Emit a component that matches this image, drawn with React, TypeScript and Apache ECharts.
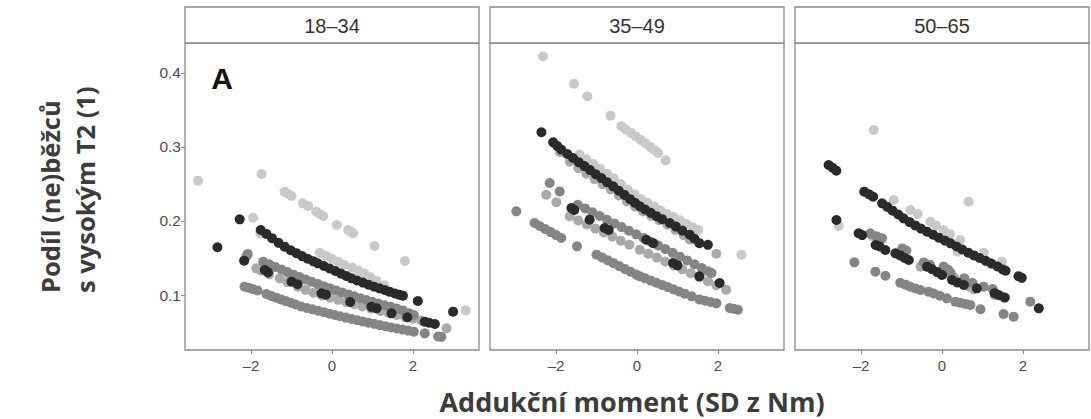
import React, { useEffect, useRef } from "react";
import * as echarts from "echarts";

// Facet labels and tick labels
const panels = ["18–34", "35–49", "50–65"];
const xTicks = [-2, 0, 2];
const yTicks = [0.1, 0.2, 0.3, 0.4];
const xRange = [-3.63, 3.63];
const yRange = [0.0257, 0.4405];

// ---------- Panel 1 (18–34) ----------
const p1Light = [
  [-3.31, 0.2545], [-1.74, 0.2635], [-1.17, 0.2396], [-1.08, 0.2365], [-1.0, 0.2338],
  [-0.72, 0.2239], [-0.59, 0.2203], [-0.39, 0.2126], [-0.3, 0.2095], [-0.22, 0.2068],
  [0.12, 0.1946], [0.4, 0.1878], [0.46, 0.1856], [0.52, 0.1834], [1.05, 0.1662],
  [1.8, 0.1459], [3.3, 0.0793], [-1.95, 0.2045], [-1.77, 0.1833],
  [-0.3, 0.157], [-0.15, 0.153], [0.0, 0.149], [0.15, 0.145], [0.3, 0.141], [0.5, 0.137],
  [0.65, 0.133], [0.8, 0.129], [0.95, 0.124], [1.1, 0.119], [1.3, 0.113],
];
const p1Mid = [
  [-1.87, 0.136], [-1.75, 0.133], [-1.55, 0.128], [-1.29, 0.1225], [-1.1, 0.1175],
  [-0.84, 0.1112], [-0.65, 0.107], [-0.45, 0.103], [-0.25, 0.0995], [-0.05, 0.0965],
  [0.15, 0.0935], [0.35, 0.0905], [0.55, 0.0875], [0.75, 0.0845], [0.97, 0.0815],
  [1.2, 0.0785], [1.4, 0.0757], [1.6, 0.073], [1.8, 0.0705], [2.0, 0.068], [2.2, 0.0655],
  [2.83, 0.055],
];
const p1Gray = [
  [-2.11, 0.1527], [-2.08, 0.1555],
  [-1.7, 0.145], [-1.55, 0.1415], [-1.4, 0.138], [-1.25, 0.1345], [-1.1, 0.131],
  [-0.95, 0.1275], [-0.8, 0.1243], [-0.65, 0.121], [-0.5, 0.1178], [-0.35, 0.1148],
  [-0.2, 0.1118], [-0.05, 0.109], [0.1, 0.1062], [0.25, 0.1035], [0.4, 0.1008],
  [0.55, 0.0982], [0.7, 0.0957], [0.85, 0.0932], [1.0, 0.0908], [1.15, 0.0885],
  [1.3, 0.0862], [1.45, 0.084], [1.6, 0.0818], [1.75, 0.0792], [1.9, 0.0755], [2.02, 0.073],
  [-2.16, 0.1112], [-2.06, 0.1098], [-1.96, 0.1082], [-1.84, 0.1062], [-1.62, 0.1014],
  [-1.5, 0.0988], [-1.38, 0.0964], [-1.26, 0.094], [-1.14, 0.0918], [-1.02, 0.0895],
  [-0.9, 0.0872], [-0.76, 0.0845], [-0.62, 0.0825], [-0.48, 0.0806], [-0.34, 0.0787],
  [-0.2, 0.0768], [-0.06, 0.0748], [0.07, 0.073], [0.2, 0.0713], [0.34, 0.0695],
  [0.48, 0.0677], [0.62, 0.066], [0.76, 0.0643], [0.9, 0.0626], [1.04, 0.061],
  [1.18, 0.0594], [1.32, 0.0578], [1.46, 0.0562], [1.6, 0.0547], [1.74, 0.0533],
  [1.88, 0.0519], [2.02, 0.0505], [2.29, 0.0482], [2.62, 0.044], [2.7, 0.0435],
];
const p1Black = [
  [-2.28, 0.2023], [-2.83, 0.1645], [-2.17, 0.1464], [2.12, 0.0919], [2.99, 0.0775],
  [-1.76, 0.1878], [-1.62, 0.1825], [-1.48, 0.1768], [-1.32, 0.1705], [-1.17, 0.1653],
  [-1.02, 0.1605], [-0.88, 0.1565], [-0.74, 0.1526], [-0.6, 0.149], [-0.46, 0.1455],
  [-0.35, 0.1428], [-0.2, 0.1392], [-0.06, 0.1358], [0.08, 0.1325], [0.22, 0.129],
  [0.35, 0.1258], [0.48, 0.1225], [0.62, 0.1196], [0.76, 0.1168], [0.9, 0.114],
  [1.04, 0.1112], [1.17, 0.109], [1.3, 0.1068], [1.42, 0.1045], [1.55, 0.1022],
  [1.66, 0.1005], [1.75, 0.0991],
  [-1.66, 0.1338], [-1.58, 0.1305], [-1.0, 0.118], [-0.85, 0.1145], [-0.26, 0.1023],
  [-0.15, 0.1005], [0.45, 0.0905], [0.97, 0.084], [1.1, 0.082], [1.47, 0.0752],
  [1.86, 0.0699], [2.29, 0.064], [2.4, 0.0625], [2.54, 0.0608],
];

// ---------- Panel 2 (35–49) ----------
const p2Light = [
  [-2.32, 0.4226], [-1.556, 0.3856], [-1.225, 0.3685], [-0.657, 0.3423],
  [-0.385, 0.328], [-0.27, 0.3235], [-0.15, 0.319], [-0.03, 0.3145], [0.09, 0.3095],
  [0.21, 0.305], [0.33, 0.3], [0.43, 0.296], [0.52, 0.292], [0.709, 0.282],
  [-1.42, 0.29], [-1.25, 0.2835], [-1.08, 0.277], [-0.91, 0.2705], [-0.74, 0.264],
  [-0.57, 0.2575], [-0.4, 0.25], [-0.23, 0.2425], [-0.06, 0.236], [0.1, 0.2295],
  [0.26, 0.2245], [0.42, 0.2195], [0.58, 0.2145], [0.74, 0.2095], [0.9, 0.2055],
  [1.06, 0.201], [1.22, 0.196], [1.38, 0.1915], [1.51, 0.188], [2.58, 0.1545],
];
const p2Mid = [
  [-2.24, 0.2355], [-1.99, 0.2253], [-1.9, 0.293],
  [-1.66, 0.28], [-1.45, 0.2715], [-1.25, 0.264], [-1.05, 0.2565], [-0.85, 0.2495],
  [-0.65, 0.2425], [-0.45, 0.2345], [-0.25, 0.2265], [-0.05, 0.2195], [0.15, 0.213],
  [0.35, 0.207], [0.55, 0.201], [0.75, 0.195], [0.95, 0.188], [1.15, 0.181], [1.3, 0.175],
  [1.96, 0.1558],
  [-1.66, 0.2063], [-1.45, 0.2008], [-1.24, 0.1953], [-1.03, 0.1898], [-0.82, 0.1844],
  [-0.61, 0.1789], [-0.4, 0.1734], [-0.19, 0.168], [0.07, 0.1612], [0.28, 0.1559],
  [0.49, 0.1506], [0.7, 0.1453], [0.91, 0.14], [1.12, 0.1347], [1.33, 0.1294],
  [1.54, 0.1241], [1.75, 0.1186], [1.96, 0.1133], [2.2, 0.1072],
];
const p2Gray = [
  [-2.156, 0.2514], [-1.909, 0.24], [-2.98, 0.2131], [-1.48, 0.1658],
  [-1.46, 0.222], [-1.28, 0.217], [-1.1, 0.2118], [-0.92, 0.2067], [-0.74, 0.2017],
  [-0.56, 0.1967], [-0.38, 0.1918], [-0.2, 0.1868], [-0.02, 0.182], [0.16, 0.177],
  [0.34, 0.172], [0.52, 0.167], [0.7, 0.162], [0.88, 0.157], [1.06, 0.1518],
  [1.24, 0.1467], [1.42, 0.1415], [1.6, 0.1365], [1.75, 0.1322], [1.84, 0.1297],
  [-2.53, 0.1973], [-2.4, 0.1933], [-2.27, 0.1893], [-2.13, 0.185], [-2.0, 0.181],
  [-1.87, 0.177],
  [-1.0, 0.1545], [-0.86, 0.1506], [-0.72, 0.1468], [-0.58, 0.143], [-0.44, 0.1391],
  [-0.3, 0.1353], [-0.16, 0.1315], [-0.02, 0.1276], [0.07, 0.1252], [0.2, 0.1225],
  [0.34, 0.1195], [0.48, 0.1166], [0.62, 0.1136], [0.76, 0.1107], [0.9, 0.1077],
  [1.04, 0.1047], [1.18, 0.1018], [1.35, 0.0982], [1.54, 0.0941], [1.68, 0.0923],
  [1.82, 0.0905], [1.96, 0.0888], [2.29, 0.0824], [2.39, 0.0813], [2.49, 0.0802],
];
const p2Black = [
  [-2.36, 0.3199], [-2.07, 0.3063], [-1.97, 0.3015], [-1.87, 0.2965], [-1.72, 0.2905],
  [-1.58, 0.2851], [-1.44, 0.2795], [-1.3, 0.2742], [-1.16, 0.2688], [-1.02, 0.2633],
  [-0.88, 0.258], [-0.74, 0.2525], [-0.59, 0.2468], [-0.45, 0.241], [-0.31, 0.2352],
  [-0.17, 0.2295], [-0.05, 0.2245], [0.07, 0.2198], [0.2, 0.2155], [0.34, 0.211],
  [0.48, 0.2065], [0.62, 0.2025], [0.81, 0.1973], [0.96, 0.1925], [1.12, 0.187],
  [1.3, 0.1815], [1.42, 0.176], [1.54, 0.17], [1.75, 0.1678],
  [-1.62, 0.2176], [-1.55, 0.215], [-1.17, 0.2018], [-0.8, 0.1905], [-0.7, 0.188],
  [0.23, 0.1747], [0.4, 0.17], [0.89, 0.1432], [1.0, 0.14], [1.54, 0.1252], [2.04, 0.1162],
];

// ---------- Panel 3 (50–65) ----------
const p3Light = [
  [-1.686, 0.323], [-1.193, 0.2284], [-0.78, 0.2149], [-0.6, 0.2095], [-0.284, 0.199],
  [-0.15, 0.194], [0.04, 0.1878], [0.2, 0.182], [0.45, 0.1743], [0.659, 0.2261],
  [1.03, 0.1572], [1.48, 0.145], [-2.55, 0.1932], [0.385, 0.1585],
];
const p3Mid = [
  [-1.72, 0.18], [-1.55, 0.177], [-0.95, 0.1605], [-0.53, 0.1383], [-0.4, 0.142],
  [0.207, 0.127], [0.3, 0.1235], [0.68, 0.1113], [0.78, 0.108], [1.3, 0.1], [1.48, 0.098],
];
const p3Gray = [
  [-2.163, 0.1442], [-1.644, 0.1315], [-1.398, 0.126], [2.18, 0.091],
  [-1.77, 0.1834], [-1.62, 0.1795], [-1.48, 0.1766], [-0.98, 0.163], [-0.88, 0.16],
  [-0.45, 0.144], [-0.3, 0.141], [0.04, 0.1383], [0.15, 0.1345], [0.21, 0.13],
  [0.55, 0.1225], [0.75, 0.1165], [1.03, 0.1113], [1.25, 0.108],
  [-1.03, 0.1166], [-0.9, 0.114], [-0.78, 0.1112], [-0.65, 0.1088], [-0.53, 0.1068],
  [-0.33, 0.1045], [-0.2, 0.102], [-0.05, 0.099], [0.12, 0.0955], [0.33, 0.091],
  [0.45, 0.0895], [0.58, 0.088], [0.7, 0.0865], [0.95, 0.0807], [1.52, 0.0743], [1.77, 0.0707],
];
const p3Black = [
  [-2.8, 0.2757], [-2.7, 0.272], [-2.61, 0.268],
  [-1.92, 0.2396], [-1.8, 0.236], [-1.7, 0.2328],
  [-1.48, 0.2239], [-1.35, 0.219], [-1.22, 0.214], [-1.08, 0.2088], [-0.95, 0.2036],
  [-0.8, 0.1985], [-0.66, 0.194], [-0.52, 0.1898], [-0.37, 0.1856], [-0.22, 0.1815],
  [-0.08, 0.1775], [0.07, 0.1735], [0.21, 0.1698], [0.36, 0.1655], [0.5, 0.1615],
  [0.65, 0.1572], [0.79, 0.1535], [0.93, 0.15], [1.08, 0.1462], [1.22, 0.1425],
  [1.37, 0.1385], [1.5, 0.1345], [1.57, 0.1328], [1.89, 0.1255], [1.97, 0.1232],
  [-2.607, 0.2014],
  [-2.06, 0.1834], [-1.97, 0.181], [-1.64, 0.1676], [-1.54, 0.1655], [-1.4, 0.1608],
  [-1.15, 0.1563], [-1.03, 0.1535], [-0.92, 0.15], [-0.82, 0.1473], [-0.37, 0.1383],
  [-0.25, 0.135], [-0.12, 0.131], [0.0, 0.127], [0.25, 0.1203], [0.38, 0.117],
  [0.54, 0.1135], [0.86, 0.109], [1.3, 0.1025], [1.4, 0.1], [1.55, 0.0965], [2.39, 0.082],
];

const panelData = [
  [p1Light, p1Mid, p1Gray, p1Black],
  [p2Light, p2Mid, p2Gray, p2Black],
  [p3Light, p3Mid, p3Gray, p3Black],
];
const shadeColors = ["#c9c9c9", "#a9a9a9", "#858585", "#2a2a2a"];

const yTitle = "Podíl (ne)běžců\ns vysokým T2 (1)";
const xTitle = "Addukční moment (SD z Nm)";

const panelLefts = [185, 490, 795];
const panelW = 294;
const plotTop = 43;
const plotH = 307;
const stripTop = 7;
const frame = "#8a8a8a";

export default function App() {
  const ref = useRef<HTMLDivElement>(null);
  useEffect(() => {
    if (!ref.current) return;
    const chart = echarts.init(ref.current, null, { renderer: "svg" });
    const grid = panelLefts.map((left) => ({
      left, top: plotTop, width: panelW, height: plotH,
      show: true, borderColor: frame, borderWidth: 1.3, backgroundColor: "#fff",
    }));
    const xAxis = panelLefts.map((_, i) => ({
      type: "value", gridIndex: i, min: xRange[0], max: xRange[1],
      axisLine: { show: false, onZero: false },
      splitLine: { show: false },
      axisTick: { show: true, length: 4, customValues: xTicks, lineStyle: { color: frame, width: 1 } },
      axisLabel: {
        customValues: xTicks, margin: 8, fontSize: 15, color: "#4d4d4d",
        fontFamily: "Liberation Sans",
        formatter: (v: number) => (v < 0 ? "–" + Math.abs(v) : String(v)),
      },
    }));
    const yAxis = panelLefts.map((_, i) => ({
      type: "value", gridIndex: i, min: yRange[0], max: yRange[1],
      axisLine: { show: false, onZero: false },
      splitLine: { show: false },
      axisTick: { show: i === 0, length: 4, customValues: yTicks, lineStyle: { color: frame, width: 1 } },
      axisLabel: {
        show: i === 0, customValues: yTicks, margin: 4, fontSize: 15.5, color: "#4d4d4d",
        fontFamily: "Liberation Sans",
        formatter: (v: number) => v.toFixed(1),
      },
    }));
    const series: any[] = [];
    panelData.forEach((shades, i) => {
      shades.forEach((pts, k) => {
        series.push({
          type: "scatter", xAxisIndex: i, yAxisIndex: i, data: pts,
          symbolSize: 10, itemStyle: { color: shadeColors[k], opacity: 1 },
          silent: true,
        });
      });
    });
    const graphic: any[] = [];
    panelLefts.forEach((left, i) => {
      graphic.push({
        type: "rect", shape: { x: left, y: stripTop, width: panelW, height: plotTop - stripTop },
        style: { fill: "#fff", stroke: frame, lineWidth: 1.3 }, z: 10,
      });
      graphic.push({
        type: "text", x: left + panelW / 2, y: (stripTop + plotTop) / 2 + 1, z: 11,
        style: {
          text: panels[i], fontSize: 20, fill: "#333", fontFamily: "Liberation Sans",
          textAlign: "center", textVerticalAlign: "middle",
        },
      });
    });
    graphic.push({
      type: "text", x: 222, y: 78, z: 11,
      style: {
        text: "A", fontSize: 30, fontWeight: "bold", fill: "#111", fontFamily: "Liberation Sans",
        textAlign: "center", textVerticalAlign: "middle",
      },
    });
    graphic.push({
      type: "text", x: 67.5, y: 293, rotation: Math.PI / 2, z: 11,
      style: {
        text: yTitle, fontSize: 25.5, fontWeight: "bold", fill: "#3c3c3c", fontFamily: "Open Sans",
        textAlign: "left", textVerticalAlign: "middle", lineHeight: 35,
      },
    });
    graphic.push({
      type: "text", x: 632, y: 401, z: 11,
      style: {
        text: xTitle, fontSize: 27, fontWeight: "bold", fill: "#3c3c3c", fontFamily: "Open Sans",
        textAlign: "center", textVerticalAlign: "middle",
      },
    });
    chart.setOption({
      animation: false,
      backgroundColor: "#fff",
      grid, xAxis, yAxis, series, graphic,
    });
    return () => chart.dispose();
  }, []);
  return (
    <div
      ref={ref}
      style={{ position: "absolute", left: 0, top: 0, width: 1091, height: 419 }}
    />
  );
}
